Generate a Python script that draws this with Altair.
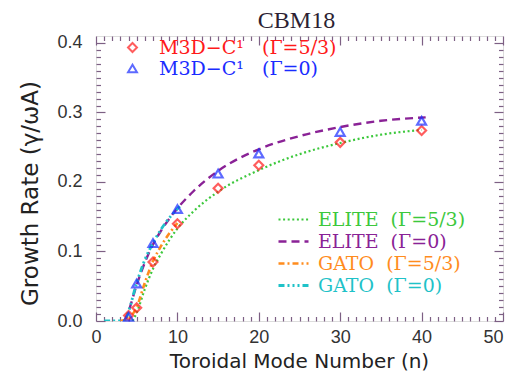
import altair as alt
import pandas as pd

# ---------------- data ----------------
TITLE = "CBM18"
X_TITLE = "Toroidal Mode Number (n)"
Y_TITLE = "Growth Rate (γ/ωA)"

SERIES = ["ELITE \u00a0(Γ=5/3)", "ELITE \u00a0(Γ=0)", "GATO \u00a0(Γ=5/3)", "GATO \u00a0(Γ=0)"]
SERIES_COLORS = ["#3cc83c", "#8a2296", "#ff8c1e", "#1fc2c8"]
SERIES_DASH = [[2, 2.6], [8, 5], [6, 3, 2, 3], [6, 3, 2, 3, 2, 3, 2, 3]]
SERIES_WIDTH = [2.2, 2.8, 2.2, 2.2]

ELITE53_N = [4.5, 5, 6, 7, 8, 10, 12, 15, 20, 25, 30, 35, 40]
ELITE53_G = [0.0, 0.012, 0.046, 0.075, 0.097, 0.133, 0.158, 0.186, 0.217, 0.240, 0.256, 0.268, 0.275]
ELITE0_N = [3.5, 4, 5, 6, 7, 8, 10, 12, 15, 20, 25, 30, 35, 40.5]
ELITE0_G = [0.0, 0.014, 0.052, 0.084, 0.110, 0.130, 0.162, 0.187, 0.216, 0.247, 0.266, 0.279, 0.288, 0.293]
GATO53_N = [3, 4, 5, 6, 7, 8, 10]
GATO53_G = [0.0, 0.004, 0.020, 0.055, 0.086, 0.108, 0.141]
GATO0_N = [1, 2, 3, 3.5, 4, 5, 6, 7, 8, 10.3]
GATO0_G = [0.0, 0.0, 0.0, 0.0, 0.014, 0.055, 0.088, 0.112, 0.132, 0.165]

M3D = ["M3D−C¹\u00a0\u00a0 (Γ=5/3)", "M3D−C¹\u00a0\u00a0 (Γ=0)"]
M3D_COLORS = ["#ff1a1a", "#1a2cff"]
M3D_SHAPES = ["diamond", "triangle-up"]
M3D_N = [4, 5, 7, 10, 15, 20, 30, 40]
M3D53_G = [0.008, 0.019, 0.085, 0.140, 0.191, 0.224, 0.257, 0.274]
M3D0_G = [0.006, 0.054, 0.112, 0.161, 0.212, 0.241, 0.272, 0.288]

X_MAJOR = [0, 10, 20, 30, 40, 50]
Y_MAJOR = [0.0, 0.1, 0.2, 0.3, 0.4]
X_MINOR = [v for v in range(1, 50) if v % 10]
Y_MINOR = [round(i * 0.01, 2) for i in range(1, 41) if i % 10]

# ---------------- tables ----------------
rows = []
for name, ns, gs in zip(SERIES, [ELITE53_N, ELITE0_N, GATO53_N, GATO0_N],
                        [ELITE53_G, ELITE0_G, GATO53_G, GATO0_G]):
    for n, g in zip(ns, gs):
        rows.append({"series": name, "n": n, "g": g})
lines_df = pd.DataFrame(rows)

prow = []
for name, gs in zip(M3D, [M3D53_G, M3D0_G]):
    for n, g in zip(M3D_N, gs):
        prow.append({"model": name, "n": n, "g": g})
pts_df = pd.DataFrame(prow)

AX = "#7d6084"
XS = alt.Scale(domain=[0, 50], nice=False, zero=False)
YS = alt.Scale(domain=[0, 0.41], nice=False, zero=False)

common_axis = dict(domain=False, grid=False, tickColor=AX, tickWidth=1.2)

x_major_bottom = alt.Axis(orient="bottom", values=X_MAJOR, offset=-9, tickSize=9,
                          labelFont="Liberation Sans", labelFontSize=18, labelColor="#333333",
                          labelPadding=7, labelFlush=False, format="d",
                          labelAlign={"condition": {"test": "datum.value >= 50", "value": "right"},
                                      "value": "center"},
                          title=X_TITLE, titleFont="DejaVu Sans", titleFontSize=20,
                          titleFontWeight="normal", titleColor="#222222", titlePadding=5,
                          titleX=203, **common_axis)
y_major_left = alt.Axis(orient="left", values=Y_MAJOR, offset=-9, tickSize=9,
                        labelFont="Liberation Sans", labelFontSize=18, labelColor="#333333",
                        labelPadding=14, format=".1f",
                        title=Y_TITLE, titleFont="DejaVu Sans", titleFontSize=23,
                        titleFontWeight="normal", titleColor="#222222", titlePadding=14,
                        titleY=157, **common_axis)
x_minor_bottom = alt.Axis(orient="bottom", values=X_MINOR, offset=-4.5, tickSize=4.5,
                          labels=False, title=None, **common_axis)
y_minor_left = alt.Axis(orient="left", values=Y_MINOR, offset=-4.5, tickSize=4.5,
                        labels=False, title=None, **common_axis)
x_major_top = alt.Axis(orient="top", values=X_MAJOR, offset=-9, tickSize=9,
                       labels=False, title=None, **common_axis)
y_major_right = alt.Axis(orient="right", values=Y_MAJOR, offset=-9, tickSize=9,
                         labels=False, title=None, **common_axis)
x_minor_top = alt.Axis(orient="top", values=X_MINOR, offset=-4.5, tickSize=4.5,
                       labels=False, title=None, **common_axis)
y_minor_right = alt.Axis(orient="right", values=Y_MINOR, offset=-4.5, tickSize=4.5,
                         labels=False, title=None, **common_axis)

line_legend = alt.Legend(title=None, orient="none", legendX=187, legendY=173,
                         symbolType="M-1.667,0H1.667", symbolSize=324,
                         labelFont="DejaVu Serif", labelFontSize=19, labelOffset=14,
                         labelColor={"expr": "scale('color', datum.value)"},
                         rowPadding=1, padding=0, labelLimit=0)
pt_legend = alt.Legend(title=None, orient="none", legendX=27, legendY=2,
                       symbolSize=80, symbolStrokeWidth=2,
                       labelFont="DejaVu Serif", labelFontSize=19, labelOffset=17,
                       labelColor={"expr": "scale('stroke', datum.value)"},
                       rowPadding=1, padding=0, labelLimit=0)

lines = alt.Chart(lines_df).mark_line(interpolate="monotone", clip=True).encode(
    x=alt.X("n:Q", scale=XS, axis=x_major_bottom),
    y=alt.Y("g:Q", scale=YS, axis=y_major_left),
    color=alt.Color("series:N", scale=alt.Scale(domain=SERIES, range=SERIES_COLORS), legend=line_legend),
    strokeDash=alt.StrokeDash("series:N", scale=alt.Scale(domain=SERIES, range=SERIES_DASH), legend=line_legend),
    strokeWidth=alt.StrokeWidth("series:N", scale=alt.Scale(domain=SERIES, range=SERIES_WIDTH), legend=line_legend),
)

points = alt.Chart(pts_df).mark_point(filled=False, size=80, strokeWidth=2.2).encode(
    x=alt.X("n:Q", scale=XS, axis=x_minor_bottom),
    y=alt.Y("g:Q", scale=YS, axis=y_minor_left),
    stroke=alt.Stroke("model:N", scale=alt.Scale(domain=M3D, range=M3D_COLORS), legend=pt_legend),
    shape=alt.Shape("model:N", scale=alt.Scale(domain=M3D, range=M3D_SHAPES), legend=pt_legend),
)

ax3 = alt.Chart(pts_df).mark_point(opacity=0).encode(
    x=alt.X("n:Q", scale=XS, axis=x_major_top),
    y=alt.Y("g:Q", scale=YS, axis=y_major_right),
)
ax4 = alt.Chart(pts_df).mark_point(opacity=0).encode(
    x=alt.X("n:Q", scale=XS, axis=x_minor_top),
    y=alt.Y("g:Q", scale=YS, axis=y_minor_right),
)

chart = alt.layer(lines, points, ax3, ax4).resolve_axis(
    x="independent", y="independent"
).properties(
    width=407, height=285,
    title=alt.TitleParams(TITLE, font="Liberation Serif", fontSize=24, color="#2d1f33",
                          fontWeight="normal", offset=1, anchor="middle", dx=-3),
    autosize=alt.AutoSizeParams(type="none"),
    padding={"left": 88, "top": 28, "right": 3, "bottom": 55},
).configure_view(stroke=AX, strokeWidth=1.5).configure(background="white")

chart.save("out.html", embed_options={"renderer": "svg", "actions": False})
